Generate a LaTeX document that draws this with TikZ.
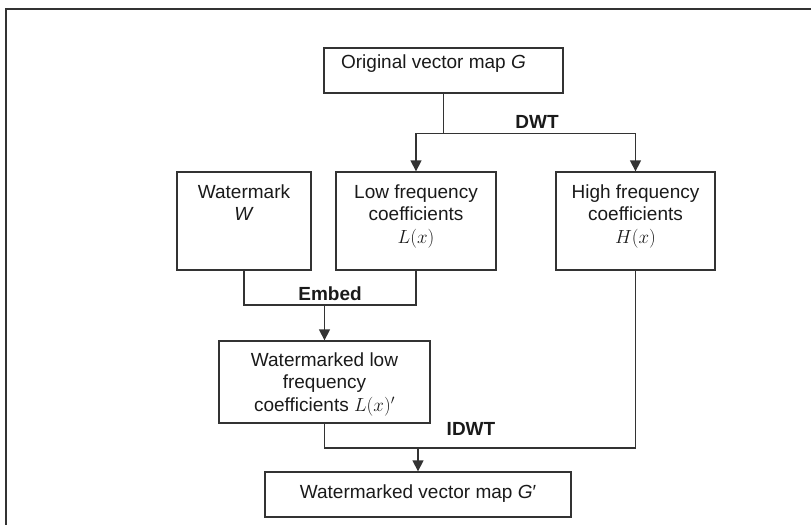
\RequirePackage{fix-cm}
\documentclass[tikz,border=0pt]{standalone}
\usepackage{fontspec}
\setmainfont{Liberation Sans}
\usetikzlibrary{arrows.meta,calc}
\definecolor{ln}{HTML}{333333}
\definecolor{txt}{HTML}{1A1A1A}
\begin{document}
\begin{tikzpicture}[x=1pt,y=-1pt,
  every node/.style={font=\fontsize{19}{22.5}\selectfont, text=txt},
  box/.style={draw=ln,line width=1.3pt,inner sep=0pt},
  lbl/.style={inner sep=0pt,align=center,anchor=north},
  steplabel/.style={font=\fontsize{19}{22.5}\selectfont\bfseries,inner sep=0pt},
  conn/.style={draw=ln,line width=1.3pt},
  arr/.style={conn,-{Triangle[length=11pt,width=11pt]}}]
\useasboundingbox (0,0) rectangle (811,525);
\draw[ln,line width=1.6pt] (811,9) -- (6,9) -- (6,525);
% boxes
\node[box,minimum width=239pt,minimum height=45pt] (top) at (443.5,70.5) {};
\node[lbl] (topt) at (433.5,54.2) {Original vector map \textit{G}};
\node[box,minimum width=134pt,minimum height=98pt] (wm) at (244,221) {};
\node[lbl] (wmt) at (244,184.2) {Watermark\\\textit{W}};
\node[box,minimum width=160pt,minimum height=98pt] (low) at (416,221) {};
\node[lbl] (lowt) at (416,184.2) {Low frequency\\coefficients\\$L(x)$};
\node[box,minimum width=159pt,minimum height=98pt] (high) at (635.5,221) {};
\node[lbl] (hight) at (635.5,184.2) {High frequency\\coefficients\\$H(x)$};
\node[box,minimum width=211pt,minimum height=82pt] (wml) at (324.5,382) {};
\node[lbl] (wmlt) at (324.5,352.2) {Watermarked low\\frequency\\coefficients $L(x)'$};
\node[box,minimum width=306pt,minimum height=45pt] (bot) at (418,494.5) {};
\node[lbl] (bott) at (418,484.2) {Watermarked vector map \textit{G}′};
% DWT split
\coordinate (dwt) at ($(top.south)+(0,40)$);
\draw[conn] (top.south) -- (dwt);
\draw[arr] (dwt) -| (low.north);
\draw[arr] (dwt) -| (high.north);
\node[steplabel] (dwtl) at (537,122) {DWT};
% Embed merge
\coordinate (emb) at (324.5,305);
\draw[conn] (wm.south) |- (emb);
\draw[conn] (low.south) |- (emb);
\draw[arr] (emb) -- (wml.north);
\node[steplabel] (embl) at (330,294) {Embed};
% IDWT merge
\coordinate (idwt) at (418,448);
\draw[conn] (wml.south) |- (idwt);
\draw[conn] (high.south) |- (idwt);
\draw[arr] (idwt) -- (bot.north);
\node[steplabel] (idwtl) at (471,429) {IDWT};
\end{tikzpicture}
\end{document}
